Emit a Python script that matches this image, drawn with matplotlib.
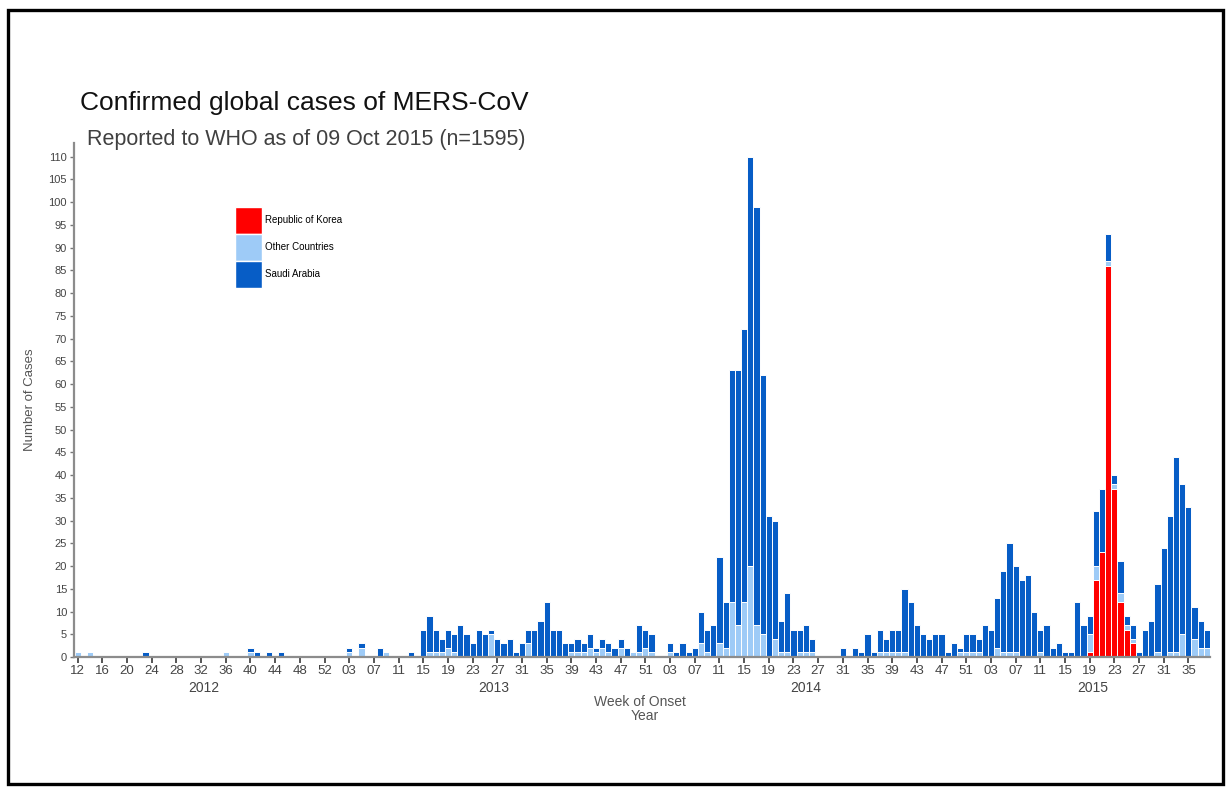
import numpy as np
import matplotlib
matplotlib.use("Agg")
import matplotlib.pyplot as plt
from matplotlib.patches import Patch, Rectangle

plt.rcParams['font.family'] = ['Liberation Sans', 'DejaVu Sans']

# week numbers shown on the axis, per year
weeks_2012 = list(range(12, 54))
weeks_2013 = list(range(1, 53))
weeks_2014 = list(range(1, 53))
weeks_2015 = list(range(1, 39))
years = ['2012', '2013', '2014', '2015']

# cases per week of onset
saudi_2012 = [0, 0, 0, 0, 0, 0, 0, 0, 0, 0,
              0, 1, 0, 0, 0, 0, 0, 0, 0, 0,
              0, 0, 0, 0, 0, 0, 0, 0, 1, 1,
              0, 1, 0, 1, 0, 0, 0, 0, 0, 0,
              0, 0]
other_2012 = [1, 0, 1, 0, 0, 0, 0, 0, 0, 0,
              0, 0, 0, 0, 0, 0, 0, 0, 0, 0,
              0, 0, 0, 0, 1, 0, 0, 0, 1, 0,
              0, 0, 0, 0, 0, 0, 0, 0, 0, 0,
              0, 0]

saudi_2013 = [0, 0, 1, 0, 1, 0, 0, 2, 0, 0,
              0, 0, 1, 0, 6, 8, 5, 3, 4, 4,
              7, 5, 3, 6, 5, 1, 4, 3, 4, 1,
              3, 3, 6, 8, 12, 6, 6, 3, 2, 3,
              2, 3, 1, 2, 2, 2, 2, 2, 0, 6,
              4, 4]
other_2013 = [0, 0, 1, 0, 2, 0, 0, 0, 1, 0,
              0, 0, 0, 0, 0, 1, 1, 1, 2, 1,
              0, 0, 0, 0, 0, 5, 0, 0, 0, 0,
              0, 3, 0, 0, 0, 0, 0, 0, 1, 1,
              1, 2, 1, 2, 1, 0, 2, 0, 1, 1,
              2, 1]

saudi_2014 = [0, 0, 2, 1, 3, 1, 2, 7, 5, 7,
              19, 10, 51, 56, 60, 90, 92, 57, 31, 26,
              7, 13, 6, 5, 6, 3, 0, 0, 0, 0,
              2, 0, 2, 1, 5, 1, 5, 3, 5, 5,
              14, 12, 7, 5, 4, 5, 5, 1, 3, 1,
              4, 4]
other_2014 = [0, 0, 1, 0, 0, 0, 0, 3, 1, 0,
              3, 2, 12, 7, 12, 20, 7, 5, 0, 4,
              1, 1, 0, 1, 1, 1, 0, 0, 0, 0,
              0, 0, 0, 0, 0, 0, 1, 1, 1, 1,
              1, 0, 0, 0, 0, 0, 0, 0, 0, 1,
              1, 1]

saudi_2015 = [3, 7, 6, 11, 18, 24, 19, 17, 18, 10,
              5, 7, 2, 3, 1, 1, 12, 7, 4, 12,
              14, 6, 2, 7, 2, 3, 1, 6, 8, 15,
              24, 30, 43, 33, 33, 7, 6, 4]
other_2015 = [1, 0, 0, 2, 1, 1, 1, 0, 0, 0,
              1, 0, 0, 0, 0, 0, 0, 0, 4, 3,
              0, 1, 1, 2, 1, 1, 0, 0, 0, 1,
              0, 1, 1, 5, 0, 4, 2, 2]
korea_2015 = [0, 0, 0, 0, 0, 0, 0, 0, 0, 0,
              0, 0, 0, 0, 0, 0, 0, 0, 1, 17,
              23, 86, 37, 12, 6, 3, 0, 0, 0, 0,
              0, 0, 0, 0, 0, 0, 0, 0]

weeks = weeks_2012 + weeks_2013 + weeks_2014 + weeks_2015
saudi = np.array(saudi_2012 + saudi_2013 + saudi_2014 + saudi_2015)
other = np.array(other_2012 + other_2013 + other_2014 + other_2015)
korea = np.array([0] * (len(weeks) - len(korea_2015)) + korea_2015)
x = np.arange(len(weeks))

c_korea = '#ff0000'
c_other = '#9ecbf7'
c_saudi = '#075dc6'

fig = plt.figure(figsize=(12.26, 7.88), dpi=100)
ax = fig.add_axes([74 / 1226, 131 / 788, 1136 / 1226, 514 / 788])

kw = dict(width=1.0, edgecolor='white', linewidth=0.7)
ax.bar(x, korea, color=c_korea, **kw)
ax.bar(x, other, bottom=korea, color=c_other, **kw)
ax.bar(x, saudi, bottom=korea + other, color=c_saudi, **kw)

ax.set_xlim(-0.6, len(weeks) - 0.5)
ax.set_ylim(0, 113)
ax.set_yticks(range(0, 111, 5))
ax.set_xticks(x[::4])
ax.set_xticklabels(['%02d' % w for w in weeks[::4]])

for s in ['top', 'right']:
    ax.spines[s].set_visible(False)
for s in ['left', 'bottom']:
    ax.spines[s].set_color('#8c8c8c')
    ax.spines[s].set_linewidth(1.6)
ax.tick_params(axis='x', direction='out', length=4, width=1.4, color='#555555',
               labelsize=9.5, labelcolor='#444444', pad=2)
ax.tick_params(axis='y', direction='out', length=3, width=1, color='#777777',
               labelsize=8, labelcolor='#444444', pad=2)

# year labels under each block of weeks
start = 0
for yr, wk in zip(years, [weeks_2012, weeks_2013, weeks_2014, weeks_2015]):
    center = start + (len(wk) - 1) / 2
    if yr == '2014':
        center -= 1.5
    ax.text(center, -0.06, yr, transform=ax.get_xaxis_transform(),
            ha='center', va='center', fontsize=10, color='#444444')
    start += len(wk)

ax.set_ylabel('Number of Cases', fontsize=9.5, color='#555555', labelpad=9)
fig.text(640 / 1226, 1 - 702 / 788, 'Week of Onset', ha='center', va='center',
         fontsize=10, color='#555555')
fig.text(645 / 1226, 1 - 716 / 788, 'Year', ha='center', va='center',
         fontsize=10, color='#555555')

fig.text(80 / 1226, 1 - 103 / 788, 'Confirmed global cases of MERS-CoV',
         ha='left', va='center', fontsize=19, color='#111111')
fig.text(87 / 1226, 1 - 140 / 788, 'Reported to WHO as of 09 Oct 2015 (n=1595)',
         ha='left', va='center', fontsize=15.5, color='#404040')

handles = [Patch(facecolor=c_korea, edgecolor='white', label='Republic of Korea'),
           Patch(facecolor=c_other, edgecolor='white', label='Other Countries'),
           Patch(facecolor=c_saudi, edgecolor='white', label='Saudi Arabia')]
ax.legend(handles=handles, loc='upper left', bbox_to_anchor=(0.1417, 0.876),
          frameon=False, fontsize=7, handlelength=2.8, handleheight=3.9,
          labelspacing=0.0, borderpad=0, borderaxespad=0, handletextpad=0.3)

fig.patches.append(Rectangle((8 / 1226, 4 / 788), 1215 / 1226, 774 / 788,
                             transform=fig.transFigure, fill=False,
                             edgecolor='black', linewidth=2.4))

fig.savefig('out.png', dpi=100)
